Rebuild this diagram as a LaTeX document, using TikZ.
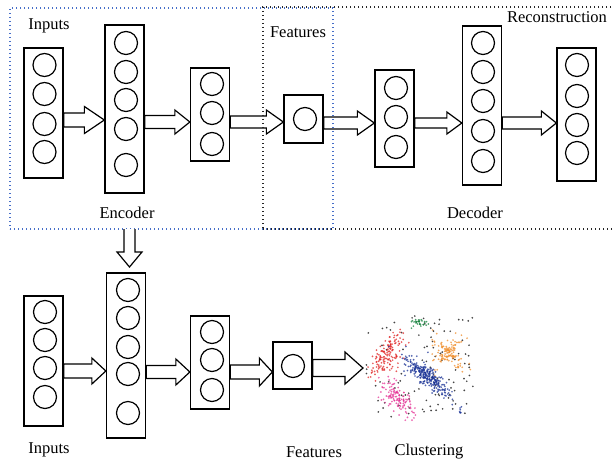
\documentclass[tikz,border=0pt]{standalone}
\usepackage{fontspec}
\setmainfont{Liberation Serif}
\usetikzlibrary{calc}
\definecolor{frblue}{RGB}{70,110,200}
\definecolor{cred}{RGB}{225,35,35}
\definecolor{corange}{RGB}{240,140,40}
\definecolor{cblue}{RGB}{25,50,150}
\definecolor{cpink}{RGB}{230,50,150}
\definecolor{cgreen}{RGB}{20,130,60}
\definecolor{cgray}{RGB}{70,70,70}
\tikzset{
 layerbox/.style={draw, line width=1.3pt, fill=white, minimum width=39pt, inner sep=0pt},
 neuron/.style={draw, circle, line width=1.2pt, minimum size=23pt, inner sep=0pt},
 barrow/.style={draw, line width=1.2pt, fill=white, line join=miter},
 lbl/.style={font=\fontsize{16.5pt}{19pt}\selectfont, inner sep=0pt},
 bluefr/.style={draw=frblue, line width=1.3pt, dash pattern=on 1.3pt off 2.7pt, inner sep=0pt},
 blackfr/.style={draw=black!85, line width=1.3pt, dash pattern=on 1.3pt off 2.7pt, inner sep=0pt},
}
\newcommand\mklayer[6]{\node[layerbox, minimum height=#4pt] (#1) at (#2,#3) {};
 \foreach \cy [count=\k] in {#6} \node[neuron] (#1c\k) at (#5,\cy) {};}
% from, to, y, shaft half, head half, head length
\newcommand\blockarrow[6]{\draw[barrow] let \p1=(#1), \p2=(#2), \p3=(0,#3) in
 (\x1,\y3+#4pt) -- (\x2-#6pt,\y3+#4pt) -- (\x2-#6pt,\y3+#5pt) -- (\x2,\y3)
 -- (\x2-#6pt,\y3-#5pt) -- (\x2-#6pt,\y3-#4pt) -- (\x1,\y3-#4pt) -- cycle;}
\newcommand\clusterpts[9]{% color,count,cx,cy,ux,uy,smaj,smin,seed
 \pgfmathsetseed{#9}
 \foreach \i in {1,...,#2}{
  \pgfmathsetmacro\pa{(rand+rand+rand)*#7}
  \pgfmathsetmacro\pb{(rand+rand+rand)*#8}
  \fill[#1, opacity=0.75] ({#3+\pa*#5-\pb*#6},{#4+\pa*#6+\pb*#5}) circle (0.95);
 }}
\begin{document}
\begin{tikzpicture}[x=1pt,y=-1pt]
\useasboundingbox (0,0) rectangle (612,461);
\clip (0,0) rectangle (612,461);
\fill[white] (0,0) rectangle (612,461);

% top row
\mklayer{tin}{43.5}{113}{130}{44.5}{65,94,124,152}
\mklayer{tenc}{124.5}{109}{168}{126}{43,72,100,129,165}
\mklayer{th}{210}{114.5}{93}{212}{84,113,144}
\mklayer{tf}{303.5}{119}{48}{305}{119}
\mklayer{tdA}{394.5}{118.5}{97}{396}{88,117,147}
\mklayer{tdB}{482}{105.5}{159}{483}{43,72,101,131,161}
\mklayer{tout}{576.5}{114.5}{133}{577}{65,96,125,153}

\blockarrow{tin.east}{tenc.west}{120}{7}{13.5}{20}
\blockarrow{tenc.east}{th.west}{122}{6.5}{12}{15}
\blockarrow{th.east}{tf.west}{122}{6}{12}{17}
\blockarrow{tf.east}{tdA.west}{123}{6}{12}{17}
\blockarrow{tdA.east}{tdB.west}{123}{5}{11}{15}
\blockarrow{tdB.east}{tout.west}{123}{6}{12}{15}

% frames
\node[bluefr, minimum width=323pt, minimum height=221pt] (encfr) at (171.5,118.5) {};
\node[blackfr, minimum width=351pt, minimum height=222pt] (decfr) at (438.5,118) {};

% labels top
\node[lbl] (l1) at (49,26) {Inputs};
\node[lbl] (l2) at (127,213) {Encoder};
\node[lbl] (l3) at (298,32) {Features};
\node[lbl] (l4) at (557,17) {Reconstruction};
\node[lbl] (l5) at (475,213) {Decoder};

% bottom row
\mklayer{bin}{43.5}{361}{130}{45}{312,340,368,397}
\mklayer{benc}{126}{355.5}{165}{128}{290,318,347,374,413}
\mklayer{bh}{210}{362.5}{93}{212}{332,360,390}
\mklayer{bf}{292.5}{365.5}{47}{293}{366}

\blockarrow{bin.east}{benc.west}{371}{7}{13}{14}
\blockarrow{benc.east}{bh.west}{372}{6.5}{13}{14}
\blockarrow{bh.east}{bf.west}{372}{7}{14}{13}
\coordinate (clus) at (363,368);
\blockarrow{bf.east}{clus}{368}{8.5}{16}{18}

% down arrow
\coordinate (dstart) at (129.5,229);
\coordinate (dtip) at (129.5,267);
\draw[barrow] let \p1=(dstart), \p2=(dtip) in
 (\x1-5.5pt,\y1) -- (\x1-5.5pt,\y2+15pt) -- (\x1-12.5pt,\y2+15pt) -- (\x2,\y2)
 -- (\x1+12.5pt,\y2+15pt) -- (\x1+5.5pt,\y2+15pt) -- (\x1+5.5pt,\y1);

% clustering scatter
\pgfmathsetseed{11}
\foreach \i in {1,...,105}{
 \pgfmathsetmacro\px{420+54*rand}
 \pgfmathsetmacro\py{368+52*rand}
 \fill[cgray] (\px,\py) circle (0.95);
}
\clusterpts{cred}{150}{388}{355}{-0.588}{0.809}{11}{6}{21}
\clusterpts{corange}{70}{448}{353}{0.707}{0.707}{11}{4}{33}
\clusterpts{corange}{60}{450}{350}{-0.707}{0.707}{10}{3.5}{34}
\clusterpts{cblue}{260}{428}{377}{0.754}{0.657}{13}{4.2}{44}
\clusterpts{cblue}{20}{425}{372}{0.754}{0.657}{22}{10}{45}
\clusterpts{cpink}{130}{398}{399}{0.671}{0.741}{10.5}{5.5}{55}
\clusterpts{cgreen}{30}{419}{322}{1}{0}{4.5}{2.5}{66}
\clusterpts{cblue}{7}{459}{412}{0.5}{-0.866}{3}{1}{77}

% labels bottom
\node[lbl] (l6) at (49,450) {Inputs};
\node[lbl] (l7) at (314,452) {Features};
\node[lbl] (l8) at (429,452) {Clustering};
\end{tikzpicture}
\end{document}
